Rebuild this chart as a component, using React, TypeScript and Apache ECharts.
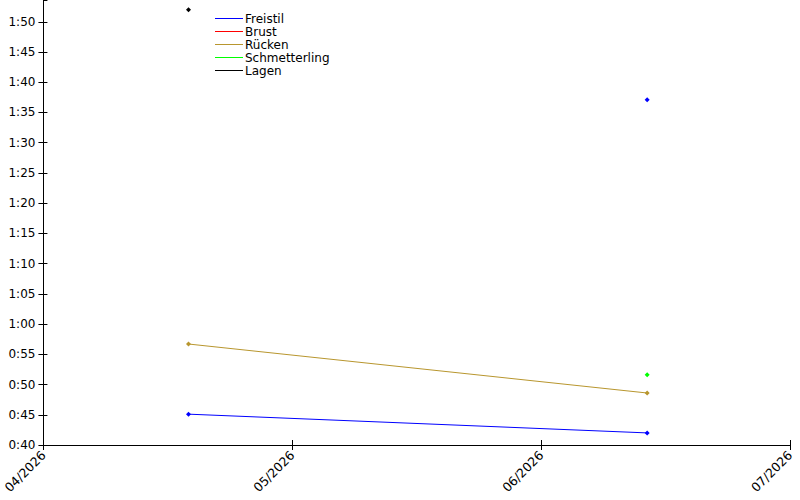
import React, { useEffect, useRef } from "react";
import * as echarts from "echarts";

// x positions in months since 04/2026 (0 = 04/2026, 1 = 05/2026, ...)
const monthLabels = ["04/2026", "05/2026", "06/2026", "07/2026"];
const datePos = [0.583, 2.426];

// times in seconds
const freistil = [45.1, 42.0];
const freistilExtra = 97.1;
const ruecken = [56.7, 48.6];
const schmetterling = [51.6];
const lagen = [112.0];

const seriesNames = ["Freistil", "Brust", "Rücken", "Schmetterling", "Lagen"];
const colors = ["#0000ff", "#ff0000", "#b8962e", "#00ff00", "#000000"];

const fmt = (v: number) => {
  const m = Math.floor(v / 60);
  const s = Math.round(v - m * 60);
  return `${m}:${s < 10 ? "0" + s : s}`;
};

const FONT = "DejaVu Sans";

export default function App() {
  const ref = useRef<HTMLDivElement>(null);
  useEffect(() => {
    if (!ref.current) return;
    const chart = echarts.init(ref.current, undefined, { renderer: "svg" });
    const axisLine = { show: true, lineStyle: { color: "#000", width: 1 } };
    const baseX = {
      type: "value" as const,
      min: 0,
      max: 3,
      interval: 1,
      axisLine,
      splitLine: { show: false },
    };
    const baseY = {
      type: "value" as const,
      min: 40,
      max: 113.6,
      interval: 5,
      axisLine,
      splitLine: { show: false },
    };
    const mk = (name: string, color: string, data: any[]) => ({
      name,
      type: "line",
      data,
      color,
      symbol: "diamond",
      symbolSize: 5,
      showSymbol: true,
      connectNulls: false,
      lineStyle: { width: 1, color },
      itemStyle: { color },
      emphasis: { disabled: true },
    });
    chart.setOption({
      animation: false,
      color: colors,
      grid: { left: 41, right: 10, top: 0, bottom: 55 },
      legend: {
        orient: "vertical",
        left: 210,
        top: 7,
        icon: "rect",
        itemWidth: 28,
        itemHeight: 1,
        itemGap: 0,
        data: seriesNames,
        textStyle: { fontFamily: FONT, fontSize: 12, color: "#000", lineHeight: 13, padding: [0, 0, 0, -3] },
      },
      xAxis: [
        {
          ...baseX,
          axisTick: { show: true, length: 5, lineStyle: { color: "#000" } },
          axisLabel: {
            rotate: 45,
            margin: 8,
            fontFamily: FONT,
            fontSize: 12.5,
            color: "#000",
            formatter: (v: number) => monthLabels[Math.round(v)] ?? "",
          },
        },
        {
          ...baseX,
          position: "bottom",
          axisTick: { show: true, inside: true, length: 5, lineStyle: { color: "#000" } },
          axisLabel: { show: false },
        },
      ],
      yAxis: [
        {
          ...baseY,
          axisTick: { show: true, length: 5, lineStyle: { color: "#000" } },
          axisLabel: {
            margin: 8,
            fontFamily: FONT,
            fontSize: 12,
            color: "#000",
            showMaxLabel: false,
            formatter: (v: number) => (Math.abs(v % 5) < 1e-6 ? fmt(v) : ""),
          },
        },
        {
          ...baseY,
          position: "left",
          axisTick: { show: true, inside: true, length: 4, lineStyle: { color: "#000" } },
          axisLabel: { show: false },
        },
      ],
      series: [
        mk(seriesNames[0], colors[0], [
          [datePos[0], freistil[0]],
          [datePos[1], freistil[1]],
          ["-", "-"],
          [datePos[1], freistilExtra],
        ]),
        mk(seriesNames[1], colors[1], []),
        mk(seriesNames[2], colors[2], [
          [datePos[0], ruecken[0]],
          [datePos[1], ruecken[1]],
        ]),
        mk(seriesNames[3], colors[3], [[datePos[1], schmetterling[0]]]),
        mk(seriesNames[4], colors[4], [[datePos[0], lagen[0]]]),
      ],
    });
    return () => chart.dispose();
  }, []);
  return <div ref={ref} style={{ width: 800, height: 500, position: "absolute", left: 0, top: 0 }} />;
}
